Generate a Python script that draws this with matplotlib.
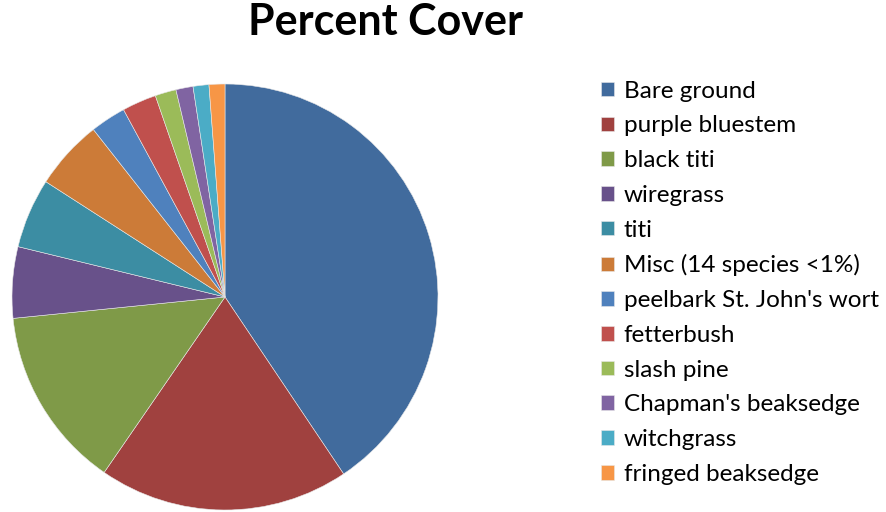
import matplotlib.pyplot as plt

plt.rcParams['font.family'] = ['Lato', 'DejaVu Sans']

labels = ["Bare ground", "purple bluestem", "black titi", "wiregrass", "titi",
          "Misc (14 species <1%)", "peelbark St. John's wort", "fetterbush",
          "slash pine", "Chapman's beaksedge", "witchgrass", "fringed beaksedge"]
cover = [40.6, 19.0, 13.8, 5.4, 5.3, 5.3, 2.7, 2.6, 1.6, 1.3, 1.2, 1.2]
colors = ["#416B9D", "#A0413F", "#7F9A48", "#68518A", "#3C8DA3", "#CC7B38",
          "#4F81BD", "#C0504D", "#9BBB59", "#8064A2", "#4BACC6", "#F79646"]

fig = plt.figure(figsize=(8.86, 5.12), dpi=100)
ax = fig.add_axes([12 / 886, 2 / 512, 426 / 886, 426 / 512])
wedges, _ = ax.pie(cover, colors=colors, startangle=90, counterclock=False,
                   radius=1, wedgeprops=dict(linewidth=0.4, edgecolor='#e8e8e8'))
ax.set_xlim(-1, 1)
ax.set_ylim(-1, 1)
ax.set_aspect('equal')

fig.text(385 / 886, 1 - 22 / 512, "Percent Cover", ha='center', va='center',
         fontsize=31, fontweight='bold')

fig.legend(wedges, labels, loc='upper left', bbox_to_anchor=(591 / 886, 1 - 71 / 512),
           frameon=False, fontsize=17.5, handlelength=0.55, handleheight=0.55,
           handletextpad=0.4, labelspacing=0.565, borderaxespad=0)

fig.savefig("out.png", dpi=100)
